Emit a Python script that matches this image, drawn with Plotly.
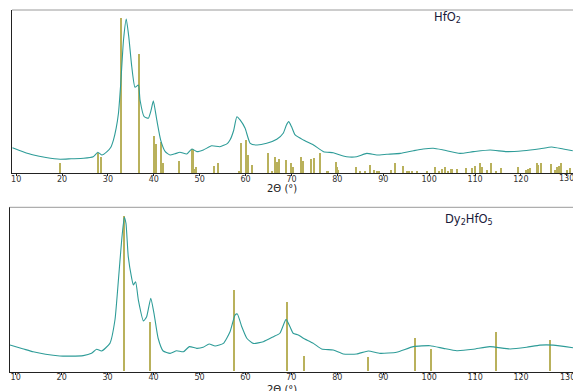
import plotly.graph_objects as go

# ---------------- data ----------------
# HfO2 measured pattern (2theta in deg, relative intensity)
hfo2_2theta = [9.2, 11.5, 13.8, 16.5, 19.6, 22.0, 24.7, 26.8, 27.8, 28.7, 29.8, 30.6, 31.2, 31.8,
               32.3, 32.8, 33.4, 34.0, 34.55, 35.2, 35.9, 36.65, 37.0, 37.9, 38.8, 39.4, 39.9,
               40.65, 41.5, 42.5, 43.55, 44.6, 45.7, 47.2, 48.3, 49.4, 50.8, 52.6, 54.4, 56.0,
               56.6, 57.4, 58.1, 58.8, 59.9, 61.0, 62.4, 64.6, 66.8, 68.2, 68.9, 69.4, 70.0,
               70.8, 72.6, 74.8, 77.0, 79.1, 80.6, 82.0, 84.2, 86.4, 88.6, 90.8, 93.7, 96.6,
               98.7, 100.9, 103.1, 106.7, 109.6, 113.3, 116.9, 120.5, 124.2, 126.7, 129.2, 131.3]
hfo2_int = [16.4, 13.8, 11.6, 10.0, 8.9, 9.2, 9.5, 10.5, 13.4, 11.6, 13.8, 16.5, 21.3, 29.0,
            38.6, 58.0, 86.0, 99.5, 88.0, 68.7, 55.4, 56.9, 47.2, 36.4, 35.4, 40.5, 46.7,
            34.3, 21.3, 13.8, 11.6, 12.4, 13.4, 12.3, 15.5, 13.8, 14.9, 17.6, 17.0, 19.0,
            21.3, 27.5, 36.4, 34.3, 28.9, 19.2, 18.1, 19.2, 21.8, 25.7, 31.0, 33.2, 30.0,
            24.6, 21.3, 18.1, 13.8, 13.1, 11.6, 10.5, 10.5, 12.7, 11.6, 12.1, 12.7, 14.4,
            15.5, 16.0, 14.9, 12.7, 13.8, 14.9, 13.8, 14.4, 15.7, 16.8, 15.5, 14.4]

# HfO2 reference lines
hfo2_ref_pos = [19.6, 27.8, 28.45, 32.81, 36.86, 40.07, 40.44, 41.66, 42.09, 45.58, 48.28, 48.5,
                48.78, 49.15, 53.2, 54.07, 58.52, 58.95, 60.11, 60.48, 61.48, 64.97, 65.71,
                66.49, 66.86, 67.23, 68.82, 69.85, 70.41, 72.16, 72.59, 74.2, 74.99, 76.16,
                77.69, 78.04, 79.65, 79.87, 80.22, 84.07, 84.94, 86.03, 87.12, 88.06, 88.58,
                89.08, 91.63, 92.57, 94.25, 95.12, 95.69, 96.21, 97.43, 99.61, 101.29, 102.16,
                102.75, 103.46, 104.18, 104.71, 105.05, 106.01, 108.04, 109.28, 110.0, 111.09,
                111.46, 112.55, 113.49, 114.58, 115.6, 119.43, 121.05, 121.61, 121.98, 123.44,
                123.79, 124.38, 126.49, 127.43, 127.8, 128.3, 128.74, 129.98, 130.7]
hfo2_ref_int = [6.7, 13.1, 10.3, 100, 77, 24, 18.6, 20, 6.5, 7.8, 15.5, 15, 2.6, 3.9, 4.5, 6.5,
                1.3, 19.6, 21.3, 11.6, 5.2, 12.7, 1.3, 10.1, 7.1, 9.0, 8.4, 6.5, 4.0, 10.1,
                7.8, 8.9, 9.5, 12.7, 1.5, 1.5, 7.1, 3.9, 2.0, 3.9, 1.0, 1.0, 5.2, 2.0, 1.5,
                1.3, 2.0, 6.5, 4.5, 1.5, 1.0, 1.0, 1.3, 1.0, 3.9, 1.5, 2.6, 3.9, 1.5, 2.6,
                2.6, 2.6, 3.2, 3.2, 4.5, 6.5, 3.9, 2.0, 6.7, 1.5, 3.2, 3.9, 2.0, 2.6, 3.2,
                6.5, 5.2, 6.5, 5.8, 2.2, 3.9, 4.5, 6.5, 2.0, 3.2]

# Dy2HfO5 measured pattern
dy_2theta = [8.76, 11.5, 13.8, 16.5, 19.6, 22.0, 24.7, 26.5, 27.6, 28.7, 30.5, 31.6, 32.3, 33.07,
             33.64, 34.0, 34.5, 35.25, 35.6, 36.1, 36.7, 37.8, 38.5, 39.4, 40.1, 41.0, 42.1,
             43.6, 45.05, 46.5, 47.8, 49.4, 50.8, 52.1, 53.4, 55.2, 56.65, 57.74, 58.24, 59.2,
             60.3, 61.7, 63.9, 66.1, 67.5, 68.84, 69.7, 70.4, 71.5, 72.6, 74.8, 76.6, 79.1,
             81.3, 84.2, 86.75, 89.3, 92.9, 96.55, 100.2, 103.1, 106.0, 109.6, 113.2, 117.6,
             121.2, 124.1, 127.0, 131.3]
dy_int = [17.1, 14.8, 12.8, 11.2, 10.1, 10.0, 10.3, 11.8, 14.4, 13.3, 18.2, 33.2, 56.8, 84.6,
          99.2, 95.3, 73.9, 60.0, 55.7, 57.8, 46.0, 32.6, 35.3, 47.1, 37.5, 21.5, 13.3,
          11.8, 13.5, 12.8, 16.1, 15.0, 15.7, 17.8, 16.5, 18.2, 25.7, 36.4, 37.1, 28.9,
          21.5, 18.2, 19.3, 22.5, 24.7, 33.6, 28.9, 24.7, 23.6, 21.5, 18.2, 14.6, 13.9,
          11.4, 11.4, 13.3, 11.8, 12.5, 16.1, 16.7, 15.0, 13.5, 14.4, 16.1, 14.6, 15.7,
          17.1, 17.1, 15.4]

# Dy2HfO5 reference lines
dy_ref_pos = [33.42, 39.23, 57.37, 68.99, 72.76, 86.54, 96.77, 100.33, 114.55, 126.3]
dy_ref_int = [100, 31.5, 52.5, 44.6, 9.6, 9.2, 21.4, 14.6, 25, 20.4]

x_ticks = [10, 20, 30, 40, 50, 60, 70, 80, 90, 100, 110, 120, 130]
x_title = "2Θ (°)"
labels = ["HfO<sub>2</sub>", "Dy<sub>2</sub>HfO<sub>5</sub>"]

# ---------------- figure ----------------
W, H = 573, 391
curve_color = "#2e9c98"
bar_color = "#b9b15c"

fig = go.Figure()

fig.add_trace(go.Bar(x=hfo2_ref_pos, y=hfo2_ref_int, width=0.26, marker=dict(color=bar_color, line=dict(width=0)),
                     xaxis="x", yaxis="y", showlegend=False))
fig.add_trace(go.Scatter(x=hfo2_2theta, y=hfo2_int, mode="lines",
                         line=dict(color=curve_color, width=1.1, shape="spline", smoothing=0.5),
                         xaxis="x", yaxis="y", showlegend=False))
fig.add_trace(go.Bar(x=dy_ref_pos, y=dy_ref_int, width=0.26, marker=dict(color=bar_color, line=dict(width=0)),
                     xaxis="x2", yaxis="y2", showlegend=False))
fig.add_trace(go.Scatter(x=dy_2theta, y=dy_int, mode="lines",
                         line=dict(color=curve_color, width=1.1, shape="spline", smoothing=0.5),
                         xaxis="x2", yaxis="y2", showlegend=False))

top_dom = [1 - 173 / H, 1 - 10 / H]
bot_dom = [1 - 371.7 / H, 1 - 207.3 / H]

xcommon = dict(tickmode="array", tickvals=x_ticks, ticktext=[str(t) for t in x_ticks],
               showline=True, linecolor="#222222", linewidth=1, ticks="outside", ticklen=2,
               ticklabelstandoff=-4,
               tickcolor="#222222", tickfont=dict(family="DejaVu Sans", size=8, color="#333333"),
               showgrid=False, zeroline=False)
ycommon = dict(showline=True, linecolor="#222222", linewidth=1, showticklabels=False, ticks="",
               showgrid=False, zeroline=False)

fig.update_layout(
    width=W, height=H, margin=dict(l=0, r=0, t=0, b=0),
    paper_bgcolor="white", plot_bgcolor="white", bargap=0,
    xaxis=dict(domain=[12 / W, 1], range=[9.1, 131.35], anchor="y", **xcommon),
    yaxis=dict(domain=top_dom, range=[0, 105.4], anchor="x", **ycommon),
    xaxis2=dict(domain=[9.5 / W, 1], range=[8.65, 131.3], anchor="y2", **xcommon),
    yaxis2=dict(domain=bot_dom, range=[0, 105.6], anchor="x2", **ycommon),
)

# gray top borders
for dom_x, dom_y in [([12 / W, 1], top_dom), ([9.5 / W, 1], bot_dom)]:
    fig.add_shape(type="line", xref="paper", yref="paper", x0=dom_x[0], x1=dom_x[1],
                  y0=dom_y[1], y1=dom_y[1], line=dict(color="#9a9a9a", width=1))

# last tick label, cut by the right edge as in the original
for xa, ya in [("x", 1 - 178.5 / H), ("x2", 1 - 377.5 / H)]:
    fig.add_annotation(x=x_ticks[-1], xref=xa, y=ya, yref="paper", text=str(x_ticks[-1]),
                       xanchor="center", yanchor="middle", showarrow=False,
                       font=dict(family="DejaVu Sans", size=8, color="#333333"))

# panel labels
fig.add_annotation(x=447 / W, y=1 - 17.5 / H, xref="paper", yref="paper", text=labels[0],
                   xanchor="center", yanchor="middle", showarrow=False,
                   font=dict(family="DejaVu Sans", size=11.5, color="#1a1a3a"))
fig.add_annotation(x=469 / W, y=1 - 219 / H, xref="paper", yref="paper", text=labels[1],
                   xanchor="center", yanchor="middle", showarrow=False,
                   font=dict(family="DejaVu Sans", size=11.5, color="#1a1a3a"))

# axis titles
fig.add_annotation(x=282 / W, y=1 - 188.5 / H, xref="paper", yref="paper", text=x_title,
                   xanchor="center", yanchor="middle", showarrow=False,
                   font=dict(family="DejaVu Sans", size=10, color="#222222"))
fig.add_annotation(x=282 / W, y=1 - 389 / H, xref="paper", yref="paper", text=x_title,
                   xanchor="center", yanchor="middle", showarrow=False,
                   font=dict(family="DejaVu Sans", size=10, color="#222222"))

fig.write_html("out.html")
